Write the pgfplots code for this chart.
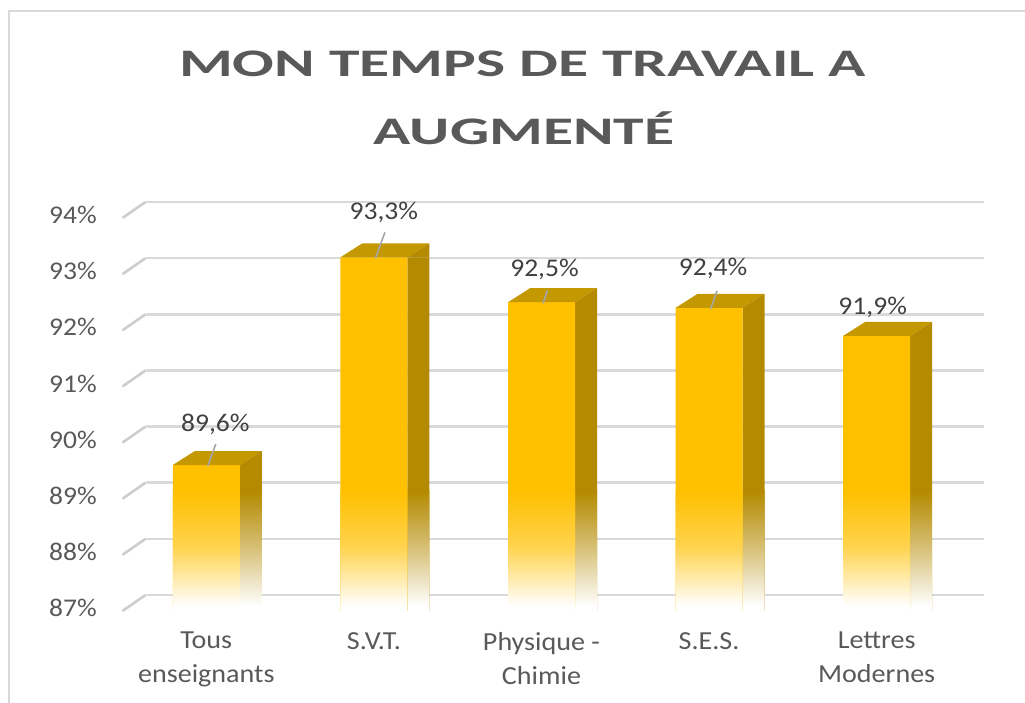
\documentclass[border=0pt]{standalone}
\usepackage{pgfplots}
\usepackage{pgfplotstable}
\pgfplotsset{compat=1.18}
\usepackage{fontspec}
\setmainfont{Carlito}
\newfontfamily\titlefont[FakeStretch=1.58]{Carlito}
\newfontfamily\lblfont[FakeStretch=1.08]{Carlito}

\definecolor{goldc}{RGB}{255,192,0}
\definecolor{topc}{RGB}{196,152,0}
\definecolor{sidec}{RGB}{180,138,0}
\definecolor{gridc}{RGB}{217,217,217}
\definecolor{stubc}{RGB}{205,205,205}
\definecolor{framec}{RGB}{217,217,217}
\definecolor{titlec}{RGB}{89,89,89}
\definecolor{labc}{RGB}{89,89,89}
\definecolor{datac}{RGB}{64,64,64}
\definecolor{leadc}{RGB}{166,166,166}
\colorlet{goldmid}{goldc!70!white}
\colorlet{sidemid}{sidec!55!white}

\pgfdeclareverticalshading{frontsh}{100bp}{color(0bp)=(white); color(27bp)=(white); color(52bp)=(goldmid); color(75bp)=(goldc); color(100bp)=(goldc)}
\pgfdeclareverticalshading{sidesh}{100bp}{color(0bp)=(white); color(27bp)=(white); color(52bp)=(sidemid); color(75bp)=(sidec); color(100bp)=(sidec)}

\makeatletter
\newcommand\fadebox[1]{%
  \pgf@resetpathsizes
  \pgfpathrectanglecorners{\pgfpointanchor{path picture bounding box}{south west}}%
    {\pgfpointadd{\pgfpointanchor{path picture bounding box}{south east}}{\pgfpoint{0pt}{120pt}}}%
  \pgfshadepath{#1}{0}\pgfusepath{}}
\makeatother

\pgfdeclareplotmark{bartop}{%
  \pgfpathmoveto{\pgfpoint{-33.5pt}{0pt}}%
  \pgfpathlineto{\pgfpoint{33.5pt}{0pt}}%
  \pgfpathlineto{\pgfpoint{55.5pt}{14pt}}%
  \pgfpathlineto{\pgfpoint{-11.5pt}{14pt}}%
  \pgfpathclose
  \pgfsetfillcolor{topc}\pgfusepath{fill}%
  \pgfpathmoveto{\pgfpoint{33.5pt}{0pt}}%
  \pgfpathlineto{\pgfpoint{55.5pt}{14pt}}%
  \pgfpathlineto{\pgfpoint{55.5pt}{0pt}}%
  \pgfpathclose
  \pgfsetfillcolor{sidec}\pgfusepath{fill}%
  \ifdim\leadlen pt>0pt
    \pgfpathmoveto{\pgfpoint{1.5pt}{-1pt}}%
    \pgfpathlineto{\pgfpoint{1.5pt+0.38*\leadlen pt}{\leadlen pt}}%
    \pgfsetstrokecolor{leadc}\pgfsetlinewidth{1.6pt}\pgfusepath{stroke}%
  \fi
}
\pgfdeclareplotmark{stub}{%
  \pgfpathmoveto{\pgfpoint{0pt}{0pt}}%
  \pgfpathlineto{\pgfpoint{-23pt}{-16pt}}%
  \pgfsetlinewidth{2.6pt}\pgfsetstrokecolor{stubc}\pgfusepath{stroke}%
}

\pgfplotstableread{
x v lx ly lead
0 89.6 9 41 21
1 93.3 10 45 25
2 92.5 3 33 12
3 92.4 4 39 17
4 91.9 -4 28 0
}\datatable

\tikzset{
  frontfade/.style={fill=goldc, draw=none, path picture={\fadebox{frontsh}}},
  sidefade/.style={fill=sidec, draw=none, path picture={\fadebox{sidesh}}},
}

\begin{document}
\begin{tikzpicture}
\path[use as bounding box] (0,0) rectangle (1025pt,703pt);
\draw[framec, line width=2pt] (9pt,0pt) -- (9pt,692pt) -- (1025pt,692pt);

\node[anchor=base, text=titlec, inner sep=0pt] at (522.5pt,626pt)
  {\titlefont\bfseries\fontsize{39}{46}\selectfont MON TEMPS DE TRAVAIL A};
\node[anchor=base, text=titlec, inner sep=0pt] at (524pt,558pt)
  {\titlefont\bfseries\fontsize{39}{46}\selectfont AUGMENTÉ};

% back wall with gridlines
\begin{axis}[
  at={(145.5pt,108pt)}, anchor=south west,
  scale only axis, width=838pt, height=393pt,
  xmin=-0.5, xmax=4.5, ymin=0, ymax=7,
  axis line style={draw=none},
  tick style={draw=none},
  xtick=\empty, ytick={0,1,...,7}, yticklabels={},
  ymajorgrids,
  major grid style={line width=2.5pt, color=gridc},
  clip=false,
]
\addplot[only marks, mark=stub] coordinates {(-0.5,0) (-0.5,1) (-0.5,2) (-0.5,3) (-0.5,4) (-0.5,5) (-0.5,6) (-0.5,7)};
\end{axis}

% front plane with bars
\begin{axis}[
  at={(122.5pt,92pt)}, anchor=south west,
  scale only axis, width=838pt, height=393pt,
  xmin=-0.5, xmax=4.5, ymin=0, ymax=7,
  axis line style={draw=none},
  tick style={draw=none},
  major tick length=0pt,
  xtick={0,1,2,3,4},
  xticklabels={{Tous\\enseignants},{S.V.T.},{Physique -\\Chimie},{S.E.S.},{Lettres\\Modernes}},
  xticklabel style={align=center, anchor=north, inner sep=0pt, yshift=-21pt,
    font=\lblfont\fontsize{26}{34}\selectfont, text=labc},
  ytick={0,1,...,7},
  yticklabels={87\%,88\%,89\%,90\%,91\%,92\%,93\%,94\%},
  yticklabel style={anchor=east, inner sep=0pt, xshift=-25.5pt, yshift=3pt,
    font=\lblfont\fontsize{25.5}{30}\selectfont, text=labc},
  clip=false,
]
\addplot[ybar, bar width=22pt, bar shift=44.5pt, sidefade]
  table[x=x, y expr=\thisrow{v}-87] {\datatable};
\addplot[ybar, bar width=67pt, bar shift=0pt, frontfade]
  table[x=x, y expr=\thisrow{v}-87] {\datatable};
\addplot[only marks, mark=bartop,
  visualization depends on={\thisrow{lead} \as \leadlen}]
  table[x=x, y expr=\thisrow{v}-87] {\datatable};
\addplot[draw=none, mark=none,
  point meta=explicit,
  visualization depends on={\thisrow{lx} \as \labx},
  visualization depends on={\thisrow{ly} \as \laby},
  nodes near coords={\pgfmathprintnumber[assume math mode=true,fixed,fixed zerofill,precision=1,use comma]{\pgfplotspointmeta}\%},
  every node near coord/.append style={anchor=center, xshift=\labx pt, yshift=\laby pt,
    inner sep=0pt, text=datac, font=\lblfont\fontsize{25.5}{30}\selectfont},
]
  table[x=x, y expr=\thisrow{v}-87, meta=v] {\datatable};
\end{axis}
\end{tikzpicture}
\end{document}
